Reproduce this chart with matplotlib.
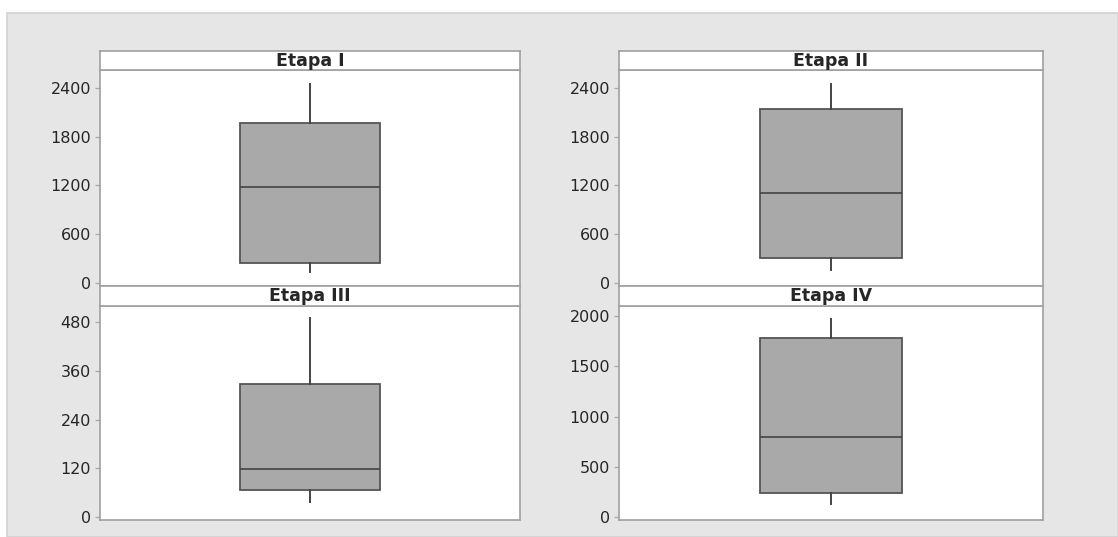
import matplotlib
matplotlib.use("Agg")
import matplotlib.pyplot as plt
from matplotlib.patches import Rectangle

# Box-plot summaries per stage
stages = ["Etapa I", "Etapa II", "Etapa III", "Etapa IV"]
whisker_low = [140, 160, 38, 130]
q1 = [245, 305, 67, 245]
median = [1185, 1105, 118, 795]
q3 = [1970, 2140, 329, 1785]
whisker_high = [2450, 2450, 490, 1965]

# Y-axis ticks and ranges per stage
y_ticks = [
    [0, 600, 1200, 1800, 2400],
    [0, 600, 1200, 1800, 2400],
    [0, 120, 240, 360, 480],
    [0, 500, 1000, 1500, 2000],
]
y_limits = [(-37, 2621), (-37, 2621), (-7, 520), (-27, 2099)]

W, H = 1118, 537
plt.rcParams["font.family"] = ["DejaVu Sans"]

fig = plt.figure(figsize=(W / 100, H / 100), dpi=100)
fig.patch.set_facecolor("white")

# Gray graph region
fig.patches.append(Rectangle((7 / W, 0), (W - 7) / W, (H - 13) / H,
                             transform=fig.transFigure, facecolor="#e6e6e6",
                             edgecolor="#d2d2d2", linewidth=1.2, zorder=-5))

border = "#a0a0a0"
text_col = "#262626"

# Panel pixel positions: (left, right), (strip_top, strip_bottom, data_bottom)
cols = [(100, 520), (619, 1043)]
rows = [(51, 70, 286), (286, 306, 520)]


def fx(px):
    return px / W


def fy(py):
    return 1 - py / H


for i, name in enumerate(stages):
    left, right = cols[i % 2]
    s_top, s_bot, d_bot = rows[i // 2]

    ax = fig.add_axes([fx(left), fy(d_bot), fx(right) - fx(left), fy(s_bot) - fy(d_bot)])
    ax.set_facecolor("white")
    stats = [dict(med=median[i], q1=q1[i], q3=q3[i],
                  whislo=whisker_low[i], whishi=whisker_high[i], fliers=[])]
    ax.bxp(stats, positions=[0.5], widths=1 / 3, patch_artist=True,
           showcaps=False, showfliers=False,
           boxprops=dict(facecolor="#a9a9a9", edgecolor="#555555", linewidth=1.3),
           medianprops=dict(color="#444444", linewidth=1.2),
           whiskerprops=dict(color="#444444", linewidth=1.4))
    ax.set_xlim(0, 1)
    ax.set_ylim(*y_limits[i])
    ax.set_xticks([])
    ax.set_yticks(y_ticks[i])
    ax.set_yticklabels([str(t) for t in y_ticks[i]])
    ax.tick_params(axis="y", direction="out", length=3.5, width=0.9,
                   color="#a8a8a8", labelsize=11.5, labelcolor=text_col, pad=3)
    for sp in ax.spines.values():
        sp.set_color(border)
        sp.set_linewidth(1.2)

    # Title strip
    sax = fig.add_axes([fx(left), fy(s_bot), fx(right) - fx(left), fy(s_top) - fy(s_bot)])
    sax.set_facecolor("white")
    sax.set_xticks([])
    sax.set_yticks([])
    for sp in sax.spines.values():
        sp.set_color(border)
        sp.set_linewidth(1.2)
    sax.text(0.5, 0.48, name, transform=sax.transAxes, ha="center", va="center",
             fontsize=12.5, fontweight="bold", color=text_col)

fig.savefig("out.png", dpi=100, facecolor=fig.get_facecolor())
